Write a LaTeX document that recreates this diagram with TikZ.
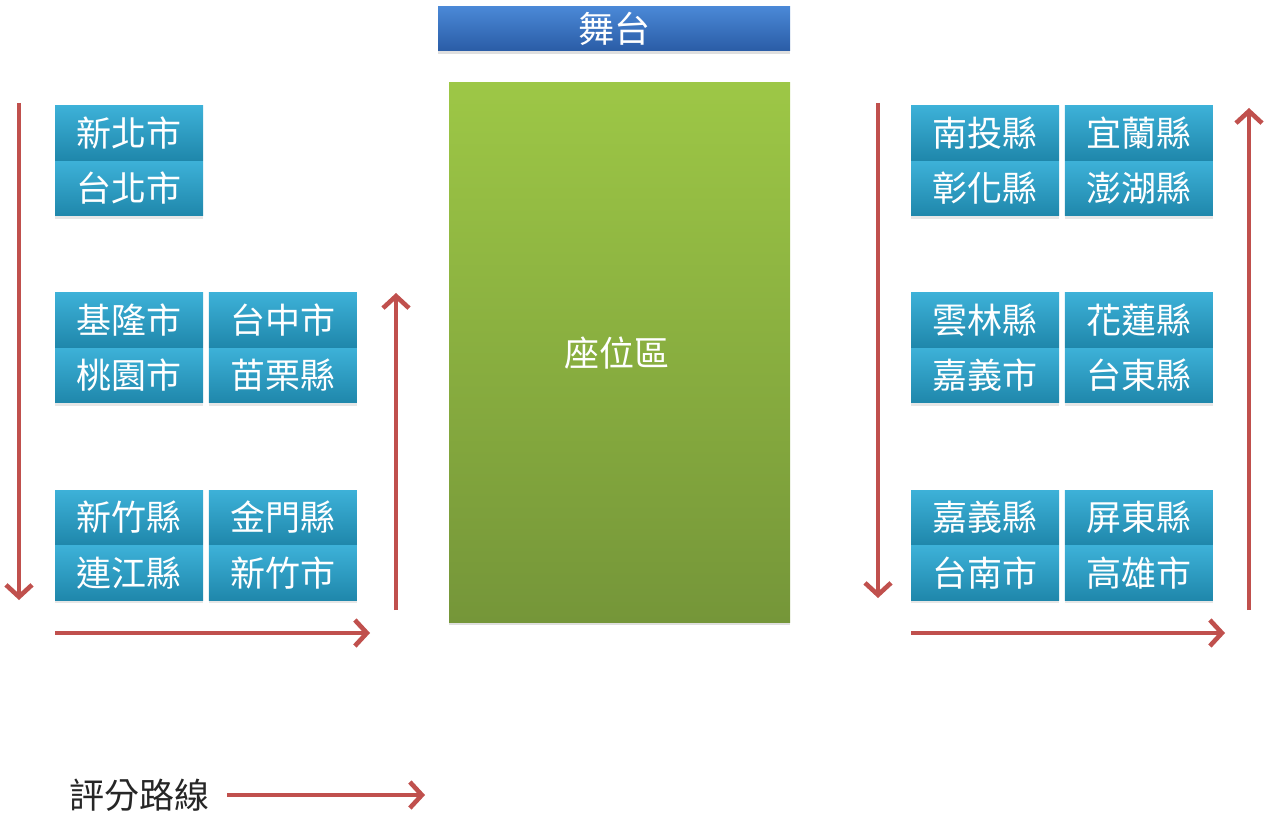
\documentclass[tikz,border=0pt]{standalone}
\usepackage{fontspec}
\setmainfont{Noto Sans CJK TC}
\usetikzlibrary{arrows.meta, positioning, shadows}

\definecolor{boxtop}{HTML}{3DB1D8}
\definecolor{boxbot}{HTML}{1F87AB}
\definecolor{stagetop}{HTML}{4A88D6}
\definecolor{stagebot}{HTML}{2A5CA6}
\definecolor{seattop}{HTML}{9DC746}
\definecolor{seatbot}{HTML}{759639}
\definecolor{routered}{HTML}{C0504D}

\tikzset{
  county/.style={minimum width=74pt, minimum height=27.3pt, inner sep=0pt,
    top color=boxtop, bottom color=boxbot, text=white,
    font=\fontsize{17.5}{20}\selectfont,
    drop shadow={opacity=0.2, shadow xshift=0pt, shadow yshift=-1.5pt}},
  route/.style={draw=routered, line width=2.3pt,
    -{Straight Barb[length=6pt, width=13pt, line width=2.3pt]}},
}

\begin{document}
\begin{tikzpicture}[x=0.5pt, y=-0.5pt]
\useasboundingbox (0,0) rectangle (1274,818);

% stage and seats
\node [minimum width=176pt, minimum height=22pt, inner sep=0pt,
  top color=stagetop, bottom color=stagebot, text=white,
  font=\fontsize{18}{20}\selectfont,
  drop shadow={opacity=0.25, shadow xshift=0pt, shadow yshift=-1.5pt}] (stage) at (614,29) {舞台};
\node [minimum width=170.5pt, minimum height=269.5pt, inner sep=0pt,
  top color=seattop, bottom color=seatbot, text=white,
  font=\fontsize{17.5}{20}\selectfont,
  drop shadow={opacity=0.25, shadow xshift=0pt, shadow yshift=-1.5pt}] (seats) at (619.5,352.5) {};
\node [text=white, font=\fontsize{17.5}{20}\selectfont, inner sep=0pt] (seatlabel) at (617,353) {座位區};

% left side
\node [county] (xinbei) at (129,133) {新北市};
\node [county, below=0pt of xinbei] (taibei) {台北市};

\node [county] (jilong) at (129,320) {基隆市};
\node [county, below=0pt of jilong] (taoyuan) {桃園市};
\node [county, right=2.5pt of jilong] (taizhong) {台中市};
\node [county, below=0pt of taizhong] (miaoli) {苗栗縣};

\node [county] (xinzhuxian) at (129,517.5) {新竹縣};
\node [county, below=0pt of xinzhuxian] (lianjiang) {連江縣};
\node [county, right=2.5pt of xinzhuxian] (jinmen) {金門縣};
\node [county, below=0pt of jinmen] (xinzhushi) {新竹市};

% right side
\node [county] (nantou) at (985,133) {南投縣};
\node [county, below=0pt of nantou] (zhanghua) {彰化縣};
\node [county, right=2.5pt of nantou] (yilan) {宜蘭縣};
\node [county, below=0pt of yilan] (penghu) {澎湖縣};

\node [county] (yunlin) at (985,320) {雲林縣};
\node [county, below=0pt of yunlin] (jiayishi) {嘉義市};
\node [county, right=2.5pt of yunlin] (hualian) {花蓮縣};
\node [county, below=0pt of hualian] (taidong) {台東縣};

\node [county] (jiayixian) at (985,517.5) {嘉義縣};
\node [county, below=0pt of jiayixian] (tainan) {台南市};
\node [county, right=2.5pt of jiayixian] (pingdong) {屏東縣};
\node [county, below=0pt of pingdong] (gaoxiong) {高雄市};

% route ends
\coordinate (ldtop) at (19,103);
\coordinate (ldbot) at (19,600);
\coordinate (lhstart) at (55,633);
\coordinate (lhend) at (370,633);
\coordinate (lubot) at (396,610);
\coordinate (lutop) at (396,293);
\coordinate (rdtop) at (878,103);
\coordinate (rdbot) at (878,598);
\coordinate (rhstart) at (911,633);
\coordinate (rhend) at (1225,633);
\coordinate (rubot) at (1249,610);
\coordinate (rutop) at (1249,108);

\draw [route] (ldtop) -- (ldbot);
\draw [route] (lhstart) -- (lhend);
\draw [route] (lubot) -- (lutop);
\draw [route] (rdtop) -- (rdbot);
\draw [route] (rhstart) -- (rhend);
\draw [route] (rubot) -- (rutop);

% legend
\node [text=black!85, font=\fontsize{17.5}{20}\selectfont, inner sep=0pt] (legend) at (139,795) {評分路線};
\coordinate (legendend) at (425,795);
\draw [route] ([xshift=9pt]legend.east) -- (legendend);
\end{tikzpicture}
\end{document}
